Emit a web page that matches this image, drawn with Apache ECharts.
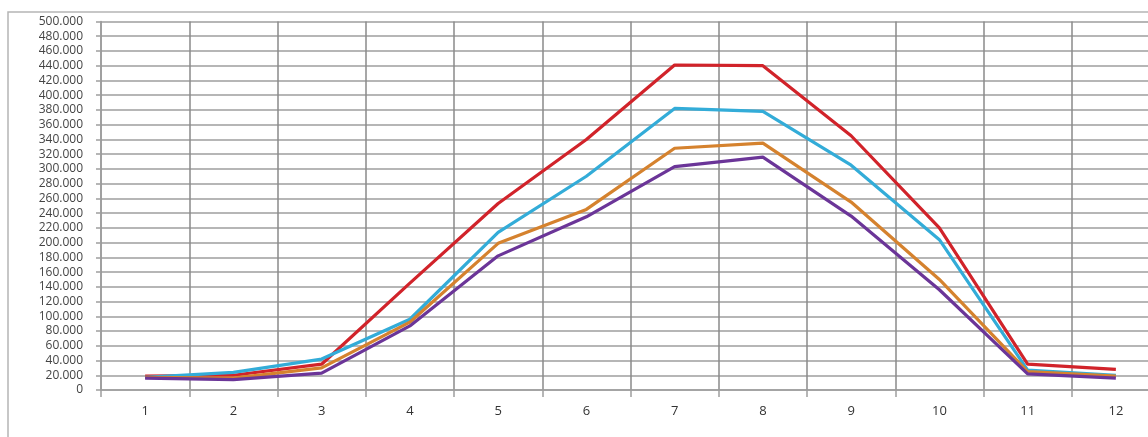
<!DOCTYPE html>
<html>
<head>
<meta charset="utf-8">
<script src="https://cdn.jsdelivr.net/npm/echarts@6/dist/echarts.min.js"></script>
<style>
html,body{margin:0;padding:0;background:#fff;overflow:hidden;}
#chart{width:1166px;height:437px;}
</style>
</head>
<body>
<div id="chart"></div>
<script>
const categories = ['1','2','3','4','5','6','7','8','9','10','11','12'];
const redValues = [19000, 20000, 35000, 145000, 253000, 340000, 441000, 440000, 345000, 220000, 35000, 28000];
const cyanValues = [17000, 24000, 42000, 96000, 214000, 290000, 382000, 378000, 305000, 204000, 27000, 20000];
const orangeValues = [17000, 16000, 30000, 92000, 199000, 245000, 328000, 335000, 255000, 150000, 25000, 19000];
const purpleValues = [16000, 14000, 23000, 87000, 182000, 235000, 303000, 316000, 236000, 136000, 22000, 16000];
const yMin = 0, yMax = 500000, yStep = 20000;

function fmt(v){
  if (v === 0) return '0';
  return String(v).replace(/\B(?=(\d{3})+(?!\d))/g, '.');
}

const chart = echarts.init(document.getElementById('chart'), null, {renderer:'canvas'});
const gridColor = '#9e9e9e';
function line(name, data, color){
  return {name, type:'line', data, symbol:'none', smooth:false,
    lineStyle:{color, width:3.2}, itemStyle:{color}, z: 3};
}
chart.setOption({
  animation:false,
  backgroundColor:'#fff',
  graphic:[{type:'rect', shape:{x:8, y:12, width:1200, height:500},
    style:{fill:'none', stroke:'#b5b5b5', lineWidth:1.5}, z:-1}],
  grid:{left:101, top:21.5, right:6, height:368.5, containLabel:false},
  xAxis:{type:'category', data:categories, boundaryGap:true,
    axisLine:{show:true, lineStyle:{color:gridColor, width:1.5}},
    axisTick:{show:true, length:7, lineStyle:{color:gridColor, width:1.5}},
    axisLabel:{color:'#333', fontSize:13, fontFamily:'Open Sans', margin:15},
    splitLine:{show:true, lineStyle:{color:'#8a8a8a', width:1.5}}},
  yAxis:{type:'value', min:yMin, max:yMax, interval:yStep,
    axisLine:{show:true, lineStyle:{color:gridColor, width:1.5}},
    axisTick:{show:true, length:5, lineStyle:{color:gridColor, width:1.5}},
    axisLabel:{color:'#444', fontSize:12, fontFamily:'Open Sans', margin:18, formatter:fmt, lineHeight:12},
    splitLine:{show:true, lineStyle:{color:gridColor, width:1.5}}},
  series:[
    line('Serie 1', redValues, '#d1232a'),
    line('Serie 2', cyanValues, '#33acd8'),
    line('Serie 3', orangeValues, '#d5822e'),
    line('Serie 4', purpleValues, '#6b3598')
  ]
});
</script>
</body>
</html>
